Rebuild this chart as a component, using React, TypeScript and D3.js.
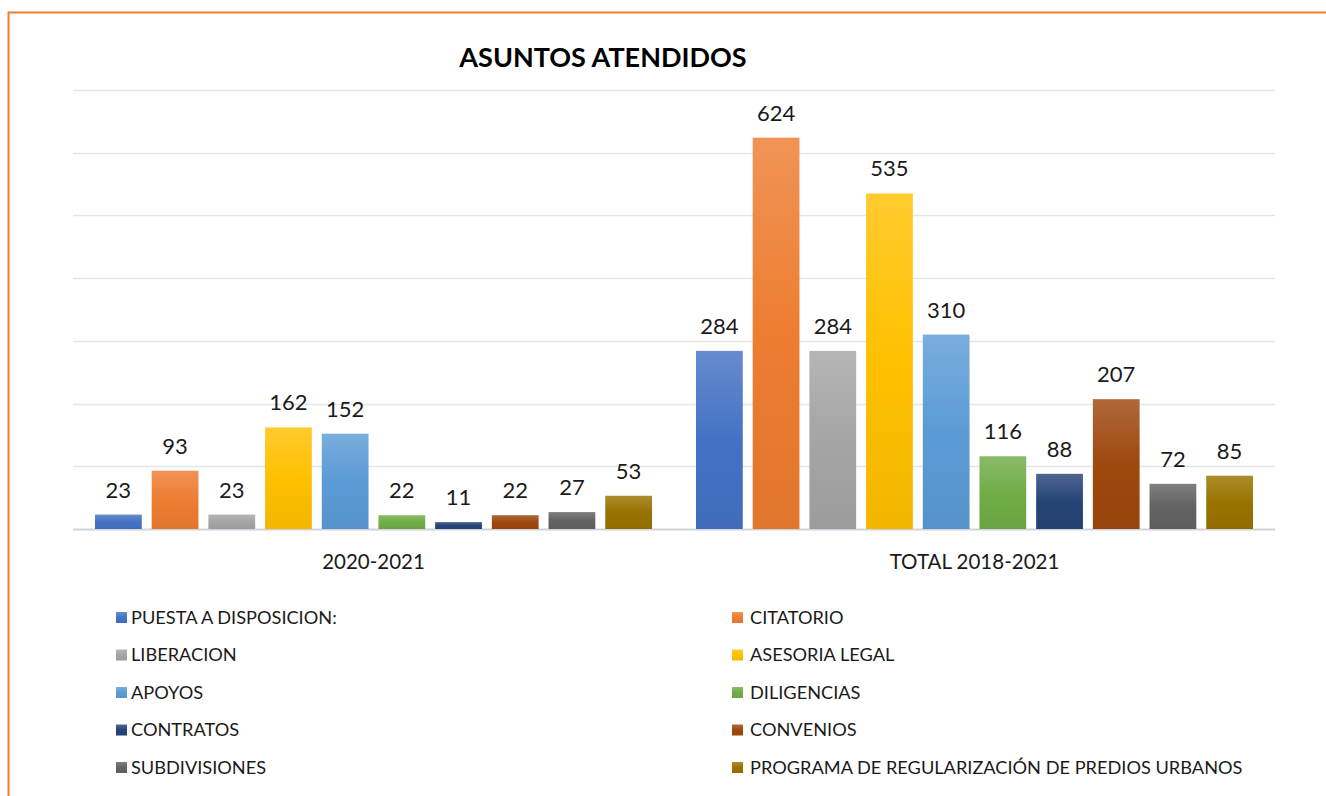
import { useEffect, useRef } from "react";
import * as d3 from "d3";

const categories = ["2020-2021", "TOTAL 2018-2021"];
const seriesNames = [
  "PUESTA A DISPOSICION:",
  "CITATORIO",
  "LIBERACION",
  "ASESORIA LEGAL",
  "APOYOS",
  "DILIGENCIAS",
  "CONTRATOS",
  "CONVENIOS",
  "SUBDIVISIONES",
  "PROGRAMA DE REGULARIZACIÓN DE PREDIOS URBANOS",
];
const values2020 = [23, 93, 23, 162, 152, 22, 11, 22, 27, 53];
const valuesTotal = [284, 624, 284, 535, 310, 116, 88, 207, 72, 85];
const yTicks = [0, 100, 200, 300, 400, 500, 600, 700];
const colors = [
  "#4472C4", "#ED7D31", "#A5A5A5", "#FFC000", "#5B9BD5",
  "#70AD47", "#264478", "#9E480E", "#636363", "#997300",
];

const FONT = "Lato, 'Open Sans', sans-serif";

export default function App() {
  const svgRef = useRef<SVGSVGElement | null>(null);

  useEffect(() => {
    const W = 1326, H = 796;
    const svg = d3.select(svgRef.current).attr("width", W).attr("height", H);
    svg.selectAll("*").remove();

    const plot = { left: 73, right: 1275, top: 90, bottom: 529 };

    // gradients, lighter on top like the office preset
    const defs = svg.append("defs");
    colors.forEach((c, i) => {
      const g = defs.append("linearGradient")
        .attr("id", `grad${i}`)
        .attr("x1", 0).attr("y1", 0).attr("x2", 0).attr("y2", 1);
      g.append("stop").attr("offset", "0%").attr("stop-color", d3.interpolateRgb(c, "#ffffff")(0.18));
      g.append("stop").attr("offset", "50%").attr("stop-color", c);
      g.append("stop").attr("offset", "100%").attr("stop-color", d3.color(c)!.darker(0.15).formatHex());
    });

    // frame
    svg.append("rect")
      .attr("x", 8.5).attr("y", 12.5)
      .attr("width", 1400).attr("height", 900)
      .attr("fill", "white")
      .attr("stroke", "#ED7D31").attr("stroke-width", 2);

    const x0 = d3.scaleBand<string>().domain(categories).range([plot.left, plot.right]);
    const x1 = d3.scaleBand<string>()
      .domain(seriesNames)
      .range([22, x0.bandwidth() - 22])
      .paddingInner(0.175);
    const y = d3.scaleLinear().domain([0, 700]).range([plot.bottom, plot.top]);

    // grid
    svg.append("g")
      .selectAll("line")
      .data(yTicks)
      .join("line")
      .attr("x1", plot.left).attr("x2", plot.right)
      .attr("y1", d => Math.round(y(d)) + 0.5).attr("y2", d => Math.round(y(d)) + 0.5)
      .attr("stroke", d => (d === 0 ? "#d0d4da" : "#e2e5ea"))
      .attr("stroke-width", d => (d === 0 ? 2 : 1.5));

    // title
    svg.append("text")
      .attr("x", 603).attr("y", 67)
      .attr("text-anchor", "middle")
      .style("font-family", FONT).style("font-weight", "bold").style("font-size", "27px")
      .attr("fill", "#000")
      .text("ASUNTOS ATENDIDOS");

    const groups = [values2020, valuesTotal];
    groups.forEach((vals, gi) => {
      const gx = x0(categories[gi])!;
      const g = svg.append("g").attr("transform", `translate(${gx},0)`);
      const data = vals.map((v, i) => ({ name: seriesNames[i], v, i }));
      g.selectAll("rect")
        .data(data)
        .join("rect")
        .attr("x", d => x1(d.name)!)
        .attr("width", x1.bandwidth())
        .attr("y", d => y(d.v))
        .attr("height", d => y(0) - y(d.v))
        .attr("fill", d => `url(#grad${d.i})`);
      g.selectAll("text.val")
        .data(data)
        .join("text")
        .attr("class", "val")
        .attr("x", d => x1(d.name)! + x1.bandwidth() / 2)
        .attr("y", d => y(d.v) - 17)
        .attr("text-anchor", "middle")
        .style("font-family", FONT).style("font-size", "22px")
        .attr("fill", "#1a1a1a")
        .text(d => d.v);
    });

    // category labels
    svg.append("g")
      .selectAll("text")
      .data(categories)
      .join("text")
      .attr("x", d => x0(d)! + x0.bandwidth() / 2)
      .attr("y", 569)
      .attr("text-anchor", "middle")
      .style("font-family", FONT).style("font-size", "20.5px")
      .attr("fill", "#1a1a1a")
      .text(d => d);

    // legend
    const legend = svg.append("g");
    const items = legend.selectAll("g")
      .data(seriesNames.map((n, i) => ({ n, i })))
      .join("g")
      .attr("transform", d => `translate(${d.i % 2 === 0 ? 116 : 732},${617 + Math.floor(d.i / 2) * 37.5})`);
    items.append("rect")
      .attr("x", 0).attr("y", -5).attr("width", 11).attr("height", 11)
      .attr("fill", d => `url(#grad${d.i})`);
    items.append("text")
      .attr("x", d => (d.i % 2 === 0 ? 15 : 18))
      .attr("y", 6.5)
      .style("font-family", FONT).style("font-size", "18.2px")
      .attr("fill", "#1a1a1a")
      .text(d => d.n);
  }, []);

  return (
    <div style={{ position: "absolute", left: 0, top: 0 }}>
      <svg ref={svgRef} style={{ display: "block" }}></svg>
    </div>
  );
}
